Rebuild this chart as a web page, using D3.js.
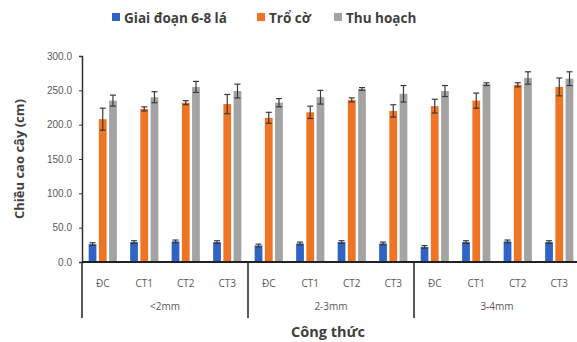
<!DOCTYPE html>
<html><head><meta charset="utf-8">
<script src="https://cdn.jsdelivr.net/npm/d3@7"></script>
<style>body{margin:0;background:#fff;}svg{display:block;font-family:"Open Sans","Noto Sans",sans-serif;}</style>
</head><body>
<svg id="c" width="577" height="342"></svg>
<script>
const groups = ["<2mm", "2-3mm", "3-4mm"];
const treatments = ["ĐC", "CT1", "CT2", "CT3"];
const series = ["Giai đoạn 6-8 lá", "Trổ cờ", "Thu hoạch"];
const colors = ["#2f64c4", "#ef7424", "#a3a3a3"];
const yTicks = [0, 50, 100, 150, 200, 250, 300];
// values by category (groups x treatments)
const stage68 = [26, 29, 30, 29, 24, 27, 29, 27, 22, 29, 30, 29];
const stage68Err = [2, 2, 2, 2, 2, 2, 2, 2, 2, 2, 2, 2];
const tassel = [208, 223, 232, 230, 210, 218, 236, 220, 227, 235, 258, 255];
const tasselErr = [16, 3, 3, 14, 8, 9, 3, 9, 10, 11, 3, 13];
const harvest = [235, 240, 255, 249, 232, 240, 252, 245, 249, 259, 268, 267];
const harvestErr = [8, 8, 8, 10, 6, 10, 2, 12, 8, 2, 9, 10];

(function () {
const vals = [stage68, tassel, harvest];
const errs = [stage68Err, tasselErr, harvestErr];
const cats = [];
groups.forEach(g => treatments.forEach(t => cats.push({g, t, key: g + "|" + t})));

const svg = d3.select("#c");
const mL = 82, mR = 580, mT = 56, mB = 262;
const x0 = d3.scaleBand().domain(cats.map(c => c.key)).range([mL, mR]);
const bw = x0.bandwidth();
const x1 = d3.scaleBand().domain(series).range([bw * 0.16, bw * 0.84]).paddingInner(0.24);
const y = d3.scaleLinear().domain([0, 300]).range([mB, mT]);

// bars
series.forEach((s, si) => {
  const gS = svg.append("g");
  cats.forEach((c, ci) => {
    const v = vals[si][ci], e = errs[si][ci];
    const bx = x0(c.key) + x1(s);
    gS.append("rect").attr("x", bx).attr("y", y(v)).attr("width", x1.bandwidth())
      .attr("height", y(0) - y(v)).attr("fill", colors[si]);
    const cx = bx + x1.bandwidth() / 2;
    const eg = svg.append("g").attr("stroke", "#3a3a3a").attr("stroke-width", 1.2);
    eg.append("line").attr("x1", cx).attr("x2", cx).attr("y1", y(v + e)).attr("y2", y(v - e));
    eg.append("line").attr("x1", cx - 3).attr("x2", cx + 3).attr("y1", y(v + e)).attr("y2", y(v + e));
    eg.append("line").attr("x1", cx - 3).attr("x2", cx + 3).attr("y1", y(v - e)).attr("y2", y(v - e));
  });
});

// y axis
const yAxis = d3.axisLeft(y).tickValues(yTicks).tickFormat(d3.format(".1f")).tickSize(3);
const ya = svg.append("g").attr("transform", `translate(${mL},0)`).call(yAxis);
ya.select(".domain").attr("stroke", "#333").attr("stroke-width", 1.5);
ya.selectAll(".tick line").attr("stroke", "#333");
ya.selectAll("text").attr("fill", "#595959").attr("font-size", 10).attr("x", -10);

// x axis baseline
svg.append("line").attr("x1", mL).attr("x2", mR).attr("y1", y(0)).attr("y2", y(0))
  .attr("stroke", "#222").attr("stroke-width", 2);

// category labels
svg.append("g").selectAll("text").data(cats).join("text")
  .attr("x", d => x0(d.key) + bw / 2).attr("y", 287)
  .attr("text-anchor", "middle").attr("font-size", 10).attr("fill", "#595959")
  .text(d => d.t);

// group separators and labels
const gw = bw * treatments.length;
groups.forEach((g, gi) => {
  const gx = mL + gi * gw;
  svg.append("line").attr("x1", gx).attr("x2", gx).attr("y1", y(0)).attr("y2", 318)
    .attr("stroke", "#222").attr("stroke-width", 1.5);
  svg.append("text").attr("x", gx + gw / 2).attr("y", 310).attr("text-anchor", "middle")
    .attr("font-size", 10).attr("fill", "#595959").text(g);
});

// axis titles
svg.append("text").attr("x", 328).attr("y", 337).attr("text-anchor", "middle")
  .attr("font-size", 14.5).attr("font-weight", "bold").attr("fill", "#404040").text("Công thức");
svg.append("text").attr("transform", "translate(24,159) rotate(-90)").attr("text-anchor", "middle")
  .attr("font-size", 13).attr("font-weight", "bold").attr("fill", "#404040").text("Chiều cao cây (cm)");

// legend
const legX = [112, 257, 334];
series.forEach((s, si) => {
  svg.append("rect").attr("x", legX[si]).attr("y", 13).attr("width", 8).attr("height", 8).attr("fill", colors[si]);
  svg.append("text").attr("x", legX[si] + 12).attr("y", 22.5).attr("font-size", 13.5)
    .attr("font-weight", "bold").attr("fill", "#404040").text(s);
});
})();
</script>
</body></html>
